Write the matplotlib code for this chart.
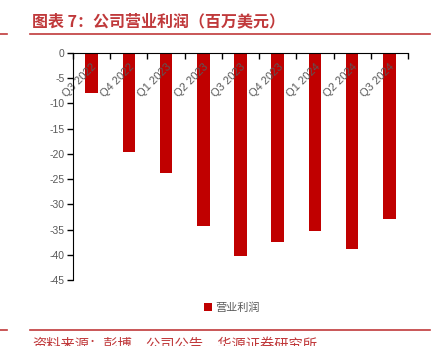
import matplotlib
matplotlib.use("Agg")
import matplotlib.pyplot as plt
from matplotlib.lines import Line2D
from matplotlib.patches import Patch

plt.rcParams['font.family'] = ['Liberation Sans', 'Noto Sans CJK SC', 'DejaVu Sans']

categories = ["Q3 2022", "Q4 2022", "Q1 2023", "Q2 2023", "Q3 2023",
              "Q4 2023", "Q1 2024", "Q2 2024", "Q3 2024"]
operating_profit = [-7.9, -19.6, -23.7, -34.3, -40.3, -37.4, -35.2, -38.9, -32.9]
yticks = [0, -5, -10, -15, -20, -25, -30, -35, -40, -45]
series_name = "营业利润"
title = "图表 7：公司营业利润（百万美元）"
source = "资料来源：彭博，公司公告，华源证券研究所"

W, H = 441, 346
fig = plt.figure(figsize=(W / 100, H / 100), dpi=100)

def px(x, y):
    return x / W, 1 - y / H

left, right, top, bottom = 73, 408, 53, 280
ax = fig.add_axes([left / W, 1 - bottom / H, (right - left) / W, (bottom - top) / H])

bar_color = '#C00000'
x = list(range(len(categories)))
ax.bar(x, operating_profit, width=0.34, color=bar_color, zorder=1)

ax.set_xlim(-0.5, len(categories) - 0.5)
ax.set_ylim(-45, 0)
ax.set_yticks(yticks)
ax.set_yticklabels([str(v) for v in yticks])

for s in ['top', 'right']:
    ax.spines[s].set_visible(False)
ax.spines['bottom'].set_position(('data', 0))
ax.spines['bottom'].set_color('#000000')
ax.spines['left'].set_color('#000000')
ax.spines['bottom'].set_zorder(3)

# boundaries as major ticks, category labels as minor ticks
ax.set_xticks([i - 0.5 for i in range(len(categories) + 1)])
ax.set_xticklabels([])
ax.set_xticks(x, minor=True)
ax.set_xticklabels(categories, minor=True, rotation=45, ha='right',
                   va='top', rotation_mode='anchor')
ax.tick_params(axis='x', which='major', direction='out', length=4, width=1, color='#000000')
ax.tick_params(axis='x', which='minor', length=0, pad=6.5, labelsize=8, labelcolor='#595959')
ax.tick_params(axis='y', direction='out', length=4, width=1, pad=2, labelsize=7.5,
               labelcolor='#595959', color='#000000')
for lab in ax.get_xticklabels(minor=True):
    lab.set_zorder(5)

red = '#C0393B'
fig.text(*px(32, 21), title, fontsize=11.5, color=red, fontweight='bold',
         va='center', ha='left', family=['Noto Sans CJK SC', 'DejaVu Sans'])
for y in (34, 329.5):
    fig.add_artist(Line2D([0, 7 / W], [1 - y / H] * 2, color=red, lw=1.2))
    fig.add_artist(Line2D([30 / W, 430 / W], [1 - y / H] * 2, color=red, lw=1.2))
fig.text(*px(32, 338), source, fontsize=10.3, color=red, va='top', ha='left',
         family=['Noto Sans CJK SC', 'DejaVu Sans'])

handle = Patch(facecolor=bar_color, edgecolor='none')
leg = fig.legend([handle], [series_name], loc='center', bbox_to_anchor=px(232, 308),
                 frameon=False, handlelength=0.7, handleheight=0.7, handletextpad=0.3,
                 prop={'family': ['Noto Sans CJK SC', 'DejaVu Sans'], 'size': 8})
for t in leg.get_texts():
    t.set_color('#595959')

fig.savefig('out.png', dpi=100)
